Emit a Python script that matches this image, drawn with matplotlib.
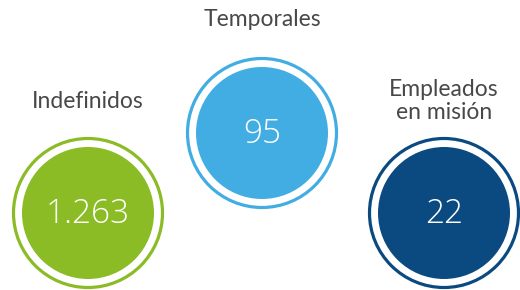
import matplotlib
matplotlib.use("Agg")
from matplotlib import pyplot as plt
from matplotlib.patches import Circle

categorias = ["Indefinidos", "Temporales", "Empleados\nen misión"]
valores = [1263, 95, 22]
colores = ["#8bbc26", "#42ade2", "#0b4a80"]

# posiciones de los círculos (pixeles)
centros = [(88, 213), (262, 133), (444, 213)]
etiqueta_y = [101, 20, 101]

fig = plt.figure(figsize=(5.2, 2.9), dpi=100)
ax = fig.add_axes([0, 0, 1, 1])
ax.set_xlim(0, 520)
ax.set_ylim(290, 0)
ax.set_aspect("equal")
ax.axis("off")

for cat, val, col, (cx, cy), ly in zip(categorias, valores, colores, centros, etiqueta_y):
    ax.add_patch(Circle((cx, cy), 74.5, fill=False, edgecolor=col, linewidth=2.3))
    ax.add_patch(Circle((cx, cy), 66, color=col, linewidth=0))
    txt = f"{val:,}".replace(",", ".")
    ax.text(cx, cy + 1, txt, color="white", fontsize=24, family="Open Sans",
            fontweight="light", ha="center", va="center")
    ax.text(cx, ly, cat, color="#484848", fontsize=16.5, family="Lato",
            ha="center", va="center", linespacing=1.15)

fig.savefig("out.png", dpi=100)
